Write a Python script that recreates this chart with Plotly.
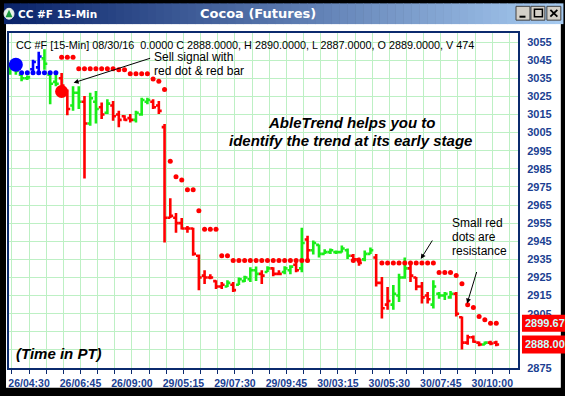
import plotly.graph_objects as go

# ---------------- data ----------------
bar_index = list(range(86))
opens = [3038, 3041, 3037, 3035, 3040, 3041, 3046, 3037, 3033, 3035,
         3027, 3020, 3027, 3022, 3010, 3022, 3019, 3016, 3020, 3015,
         3014, 3013, 3012, 3015, 3022, 3022, 3020, 3008, 2958, 2958,
         2955, 2952, 2952, 2937, 2926, 2925, 2923, 2920, 2920, 2921,
         2921, 2923, 2924, 2929, 2927, 2928, 2930, 2927, 2928, 2929,
         2932, 2930, 2946, 2940, 2943, 2938, 2939, 2939, 2939, 2940,
         2937, 2935, 2935, 2938, 2936, 2922, 2910, 2910, 2915, 2925,
         2930, 2925, 2920, 2915, 2910, 2916, 2915, 2914, 2916, 2903,
         2889, 2892, 2889, 2888, 2889, 2889]
highs = [3043.4, 3045, 3038.8, 3036.5, 3045.2, 3049.7, 3051, 3038.8, 3037.9, 3037.9,
         3028.8, 3030.6, 3030.6, 3025.2, 3027, 3028, 3021.6, 3023.4, 3022.5, 3017,
         3014.6, 3015.2, 3017, 3024.3, 3024.3, 3023.4, 3022.5, 3009.7, 2968.8, 2960.6,
         2957.9, 2953.4, 2952.5, 2937.7, 2929, 2926.8, 2923.5, 2922.5, 2923.5, 2922.5,
         2925, 2926, 2930.6, 2931, 2929, 2931.2, 2930.6, 2929, 2931.2, 2931.7,
         2934.4, 2952.5, 2948, 2945.4, 2943.2, 2940.6, 2941, 2939.9, 2942.6, 2941,
         2937.9, 2936, 2939.9, 2941.5, 2937.9, 2925.2, 2919.7, 2920.8, 2927, 2936,
         2932.4, 2925.2, 2922.5, 2917, 2923.4, 2917, 2917, 2917.5, 2917, 2903.4,
         2893.4, 2893, 2889.7, 2889.7, 2890, 2890]
lows = [3037, 3037, 3033.4, 3034, 3038, 3038, 3039.7, 3020.6, 3030.6, 3029.7,
        3014.6, 3017, 3018, 2979.7, 3008.8, 3010, 3012.5, 3015.2, 3011.6, 3008,
        3011.5, 3010.6, 3010.6, 3014.3, 3020.6, 3018, 3015.2, 2944.3, 2957.9, 2949.7,
        2951.5, 2949.7, 2937, 2918, 2921.4, 2924, 2918.6, 2918.6, 2919.7, 2917,
        2920.8, 2922.5, 2922.5, 2923, 2921.4, 2928, 2925.7, 2926.3, 2926.8, 2926.8,
        2927.9, 2927.9, 2933.4, 2937.7, 2936, 2937.9, 2938, 2937.9, 2938.8, 2935.2,
        2934.3, 2931.5, 2934, 2937.9, 2920, 2902.3, 2907.2, 2907.2, 2911.5, 2924.3,
        2922.5, 2917.9, 2910.6, 2910.6, 2907.9, 2913.3, 2912.5, 2913.3, 2903.4, 2885.2,
        2887.9, 2889, 2887, 2887.9, 2887.5, 2887]
closes = [3042, 3039, 3035, 3035.5, 3044, 3047, 3043, 3032, 3032, 3031,
          3018, 3027, 3022, 3010, 3024, 3018, 3015, 3021, 3014, 3012,
          3012, 3012, 3016, 3023, 3023, 3019, 3017, 2958, 2959, 2955,
          2952, 2952, 2938, 2925, 2925, 2925, 2920, 2921, 2922, 2918,
          2924, 2925, 2929, 2927, 2926, 2930, 2927, 2927, 2930, 2931,
          2929, 2944, 2940, 2944, 2938, 2939, 2940, 2939, 2941, 2937,
          2935, 2933, 2938, 2940, 2922, 2908, 2912, 2916, 2925, 2930,
          2926, 2920, 2914, 2913, 2920, 2915, 2916, 2916, 2905, 2889,
          2892, 2889.5, 2888, 2889, 2888.5, 2888]
# AbleTrend bar colour state per bar: G = green, R = red, B = blue
trend = ("GGGGBBGGGRRGGRGGRGRRRRGGG" "RRRRRRRRRRRRR" "GRGGGGRGRRGGRGR"
         "GGGGGGGRRGGRRRGGGRRRRGGGGRRRRRGRR")

# small red resistance dots
res_idx = [9, 10, 11, 12, 13, 14, 15, 16, 17, 18, 19, 20, 21, 22, 23, 24, 25, 26, 27,
           28, 29, 30, 31, 32, 33, 34, 35, 36, 37, 38, 39, 40, 41, 42, 43, 44, 45, 46,
           47, 48, 49, 50, 51, 52, 60, 61, 65, 66, 67, 68, 69, 70, 71, 72, 73, 74,
           75, 76, 77, 78, 79, 80, 81, 82, 83, 84, 85]
res_val = [3046.6, 3046.6, 3046.6, 3040.3, 3040.3, 3040.3, 3040.3, 3040.3, 3040.3, 3040.3,
           3039.7, 3039.7, 3037.5, 3037.5, 3037.5, 3037.5, 3034.6, 3033.4, 3028.8,
           2989.2, 2980.6, 2978.8, 2973.4, 2973.4, 2961.9, 2951.6, 2951.6, 2951.6, 2937, 2937,
           2934.3, 2934.3, 2934.3, 2934.3, 2934.3, 2934.3, 2934.3, 2934.3, 2934.3, 2934.3,
           2934.3, 2934.3, 2934.3, 2934.3, 2934.3, 2934.3,
           2933, 2933, 2933, 2933, 2933, 2933, 2933, 2933, 2933, 2933,
           2927.7, 2927.7, 2927.7, 2926.1, 2921.5, 2909.9, 2908.4, 2903.5, 2901.7, 2899.67, 2899.67]
# small blue support dots
sup_idx = [2, 3, 4, 5, 6, 7, 8]
sup_val = [3038, 3038, 3038, 3038, 3038, 3038, 3038]
# big signal dots
buy_dot_idx, buy_dot_val = [1], [3042.5]
sell_dot_idx, sell_dot_val = [9], [3027.7]

time_labels = ["26/04:30", "26/06:45", "26/09:00", "29/05:15", "29/07:30",
               "29/09:45", "30/03:15", "30/05:30", "30/07:45", "30/10:00"]
label_bars = [3, 12, 21, 30, 39, 48, 57, 66, 75, 84]
price_ticks = [2875, 2885, 2895, 2905, 2915, 2925, 2935, 2945, 2955, 2965, 2975,
               2985, 2995, 3005, 3015, 3025, 3035, 3045, 3055]
# labels hidden behind the last-price boxes in the original
hidden_price_labels = [2885, 2895]
last_resistance = 2899.67
last_close = 2888.00
header = ("CC #F [15-Min] 08/30/16  0.0000 C 2888.0000, H 2890.0000, "
          "L 2887.0000, O 2889.0000, V 474")

assert len(trend) == len(bar_index) == len(opens) == len(highs) == len(lows) == len(closes)
assert len(res_idx) == len(res_val)

# ---------------- geometry helpers (layout chrome only) ----------------
W, H = 565, 396
ML, MR, MT, MB = 7, 47, 33, 24
PW, PH = W - ML - MR, H - MT - MB


def px(x):
    return (x - ML) / PW


def py(y):
    return (H - MB - y) / PH


NAVY = "#0b2a6e"
LABEL = "#1b3f92"
GRID = "#bdf0c4"
COLORS = {"G": "#19ee19", "R": "#ff0000", "B": "#0000ff"}
FONT = "Liberation Sans, Arial, sans-serif"

fig = go.Figure()

# resistance / support dots
fig.add_trace(go.Scatter(x=res_idx, y=res_val, mode="markers",
                         marker=dict(color="#ff0000", size=5, line=dict(width=0)),
                         hoverinfo="skip", showlegend=False))
fig.add_trace(go.Scatter(x=sup_idx, y=sup_val, mode="markers",
                         marker=dict(color="#0000ff", size=5, line=dict(width=0)),
                         hoverinfo="skip", showlegend=False))

# OHLC bars, one trace per trend colour
for code, col in COLORS.items():
    sel = [i for i in bar_index if trend[i] == code]
    fig.add_trace(go.Ohlc(
        x=sel,
        open=[opens[i] for i in sel], high=[highs[i] for i in sel],
        low=[lows[i] for i in sel], close=[closes[i] for i in sel],
        increasing=dict(line=dict(color=col, width=2.6)),
        decreasing=dict(line=dict(color=col, width=2.6)),
        tickwidth=0.5, hoverinfo="skip", showlegend=False))

# big signal dots
fig.add_trace(go.Scatter(x=buy_dot_idx, y=buy_dot_val, mode="markers",
                         marker=dict(color="#0000ff", size=14, line=dict(width=0)),
                         hoverinfo="skip", showlegend=False))
fig.add_trace(go.Scatter(x=sell_dot_idx, y=sell_dot_val, mode="markers",
                         marker=dict(color="#ff0000", size=13, line=dict(width=0)),
                         hoverinfo="skip", showlegend=False))

shapes = []
# white window body
shapes.append(dict(type="rect", xref="paper", yref="paper", layer="below",
                   x0=px(4), x1=px(561), y0=py(392), y1=py(24),
                   fillcolor="white", line=dict(width=0)))
# title bar gradient
c0, c1 = (10, 36, 106), (166, 202, 240)
n = 70
x_start, x_end = 2, 563
for k in range(n):
    t = k / (n - 1)
    col = "rgb(%d,%d,%d)" % tuple(round(a + (b - a) * t) for a, b in zip(c0, c1))
    xa = x_start + (x_end - x_start) * k / n
    xb = x_start + (x_end - x_start) * (k + 1) / n + 0.6
    shapes.append(dict(type="rect", xref="paper", yref="paper", layer="below",
                       x0=px(xa), x1=px(xb), y0=py(24), y1=py(3),
                       fillcolor=col, line=dict(width=0)))
# window buttons
for bx in (516, 531, 547):
    shapes.append(dict(type="rect", xref="paper", yref="paper", layer="below",
                       x0=px(bx), x1=px(bx + 14), y0=py(20), y1=py(6),
                       fillcolor="#d4d0c8", line=dict(color="#404040", width=1)))
shapes.append(dict(type="line", xref="paper", yref="paper", layer="below",
                   x0=px(519.5), x1=px(525.5), y0=py(16.5), y1=py(16.5),
                   line=dict(color="black", width=2)))
shapes.append(dict(type="rect", xref="paper", yref="paper", layer="below",
                   x0=px(534.5), x1=px(542.5), y0=py(16.5), y1=py(9),
                   line=dict(color="black", width=1.5)))
shapes.append(dict(type="line", xref="paper", yref="paper", layer="below",
                   x0=px(550.5), x1=px(557.5), y0=py(16.5), y1=py(9.5),
                   line=dict(color="black", width=1.8)))
shapes.append(dict(type="line", xref="paper", yref="paper", layer="below",
                   x0=px(550.5), x1=px(557.5), y0=py(9.5), y1=py(16.5),
                   line=dict(color="black", width=1.8)))
# title icon
shapes.append(dict(type="circle", xref="paper", yref="paper", layer="below",
                   x0=px(2), x1=px(12), y0=py(19), y1=py(8),
                   fillcolor="#e8f4e8", line=dict(color="#f0f0f0", width=1)))
shapes.append(dict(type="path", xref="paper", yref="paper", layer="below",
                   path="M %f %f L %f %f L %f %f Z" % (px(3.5), py(17), px(7), py(9.5), px(10.5), py(17)),
                   fillcolor="#1a9a3a", line=dict(width=0)))
# last-price boxes on the price scale
for val, hgt in ((last_resistance, 17), (last_close, 18)):
    shapes.append(dict(type="rect", xref="paper", yref="y", layer="above",
                       x0=px(522), x1=px(566), ysizemode="pixel", yanchor=val,
                       y0=-hgt / 2, y1=hgt / 2, fillcolor="#ff0000", line=dict(width=0)))

annotations = []


def txt(text, x, y, size, xanchor="left", color="black", weight="normal", style="normal",
        family=FONT):
    annotations.append(dict(text=text, xref="paper", yref="paper", x=px(x), y=py(y),
                            xanchor=xanchor, yanchor="middle", showarrow=False,
                            font=dict(family=family, size=size, color=color,
                                      weight=weight, style=style)))


txt("CC #F 15-Min", 14, 14, 10.5, color="white", weight="bold", family="DejaVu Sans")
txt("Cocoa (Futures)", 257, 13.5, 13, xanchor="center", color="white", weight="bold",
    family="DejaVu Sans")
txt(header, 12.5, 45, 10.8)
txt("Sell signal with", 151, 57.5, 12)
txt("red dot & red bar", 151, 71.5, 12)
txt("AbleTrend helps you to", 350.5, 124, 15, xanchor="center", weight="bold", style="italic")
txt("identify the trend at its early stage", 350, 141.5, 15, xanchor="center",
    weight="bold", style="italic")
txt("Small red", 450, 225, 12)
txt("dots are", 450, 239.5, 12)
txt("resistance", 450, 253.5, 12)
txt("(Time in PT)", 12.5, 357.5, 15, weight="bold", style="italic")

# price box labels
for val in (last_resistance, last_close):
    annotations.append(dict(text="%.2f" % val, xref="paper", yref="y", x=px(523.5), y=val,
                            xanchor="left", yanchor="middle", showarrow=False,
                            font=dict(family=FONT, size=11, color="#c8ffff", weight="bold")))

# arrows (head at a data point, tail offset in pixels)
for hx, hy, ax, ay in ((11.1, 3032.5, 78, -25), (71.8, 2935.2, 12.5, -20),
                       (79.9, 2910.6, 10, -33)):
    annotations.append(dict(text="", x=hx, y=hy, xref="x", yref="y", ax=ax, ay=ay,
                            showarrow=True, arrowhead=2, arrowsize=1, arrowwidth=1,
                            arrowcolor="black"))

fig.update_layout(
    width=W, height=H,
    margin=dict(l=ML, r=MR, t=MT, b=MB, pad=0),
    paper_bgcolor="black", plot_bgcolor="white",
    showlegend=False,
    shapes=shapes, annotations=annotations,
    xaxis=dict(
        range=[-0.2, 88.8], rangeslider=dict(visible=False), fixedrange=True,
        tickmode="array", tickvals=[b + 0.3 for b in label_bars], ticktext=time_labels,
        ticks="outside", ticklen=4, tickwidth=1, tickcolor=NAVY,
        tickfont=dict(family=FONT, size=10.5, color=LABEL, weight="bold"),
        showgrid=True, gridcolor=GRID, gridwidth=1, zeroline=False,
        showline=True, mirror=True, linecolor=NAVY, linewidth=2,
        minor=dict(tickmode="array", tickvals=[0.3 + 3 * k for k in range(30)],
                   ticks="outside", ticklen=4, tickcolor=NAVY,
                   showgrid=True, gridcolor=GRID, gridwidth=1),
    ),
    yaxis=dict(
        side="right", range=[2875, 3060], fixedrange=True,
        tickmode="array", tickvals=price_ticks,
        ticktext=["" if v in hidden_price_labels else str(v) for v in price_ticks],
        ticks="outside", ticklen=5, tickcolor="rgba(0,0,0,0)",
        tickfont=dict(family=FONT, size=11, color=LABEL, weight="bold"),
        showgrid=True, gridcolor=GRID, gridwidth=1, zeroline=False,
        showline=True, mirror=True, linecolor=NAVY, linewidth=2,
    ),
)

fig.write_html("out.html")
